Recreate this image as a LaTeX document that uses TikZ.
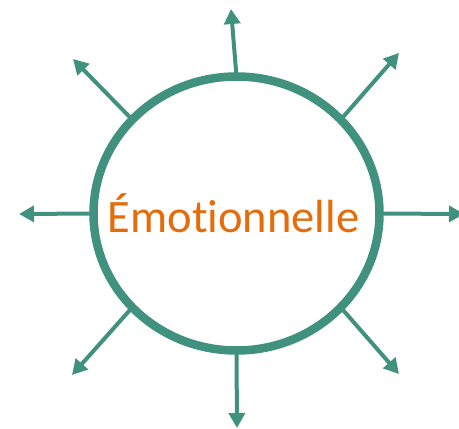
\documentclass[tikz,border=0pt]{standalone}
\usepackage{fontspec}
\setmainfont{Carlito}[Ligatures=NoCommon]
\usetikzlibrary{arrows.meta,shapes.geometric}
\definecolor{ringteal}{RGB}{64,145,125}
\definecolor{wordorange}{RGB}{228,108,10}
\tikzset{
  ring/.style={
    ellipse,
    draw=ringteal,
    line width=8.5pt,
    minimum width=286pt,
    minimum height=274pt,
    inner sep=0pt,
    outer sep=0pt
  },
  ray/.style={
    draw=ringteal,
    line width=4pt,
    -{Triangle[length=15pt,width=16pt]}
  },
  word/.style={
    text=wordorange,
    font=\fontsize{46.5}{52}\selectfont,
    inner sep=0pt
  }
}

\begin{document}
\begin{tikzpicture}[x=1pt,y=-1pt]

  \path[use as bounding box] (0,0) rectangle (459,429);

  % ring and its word
  \node[ring] (emo) at (236.5,213.5) {};
  \node[word, anchor=base] (label) at (233.5,232) {Émotionnelle};

  % ends of the rays
  \coordinate (tipN)  at (231,9);
  \coordinate (tipNE) at (399,53);
  \coordinate (tipE)  at (464,214);
  \coordinate (tipSE) at (399,374);
  \coordinate (tipS)  at (237,428);
  \coordinate (tipSW) at (72,375);
  \coordinate (tipW)  at (19,214);
  \coordinate (tipNW) at (73,59);

  % rays
  \draw[ray] (emo.90)  -- (tipN);
  \draw[ray] (emo.42)  -- (tipNE);
  \draw[ray] (emo.0)   -- (tipE);
  \draw[ray] (emo.-42) -- (tipSE);
  \draw[ray] (emo.-90) -- (tipS);
  \draw[ray] (emo.222) -- (tipSW);
  \draw[ray] (emo.180) -- (tipW);
  \draw[ray] (emo.138) -- (tipNW);

\end{tikzpicture}
\end{document}
